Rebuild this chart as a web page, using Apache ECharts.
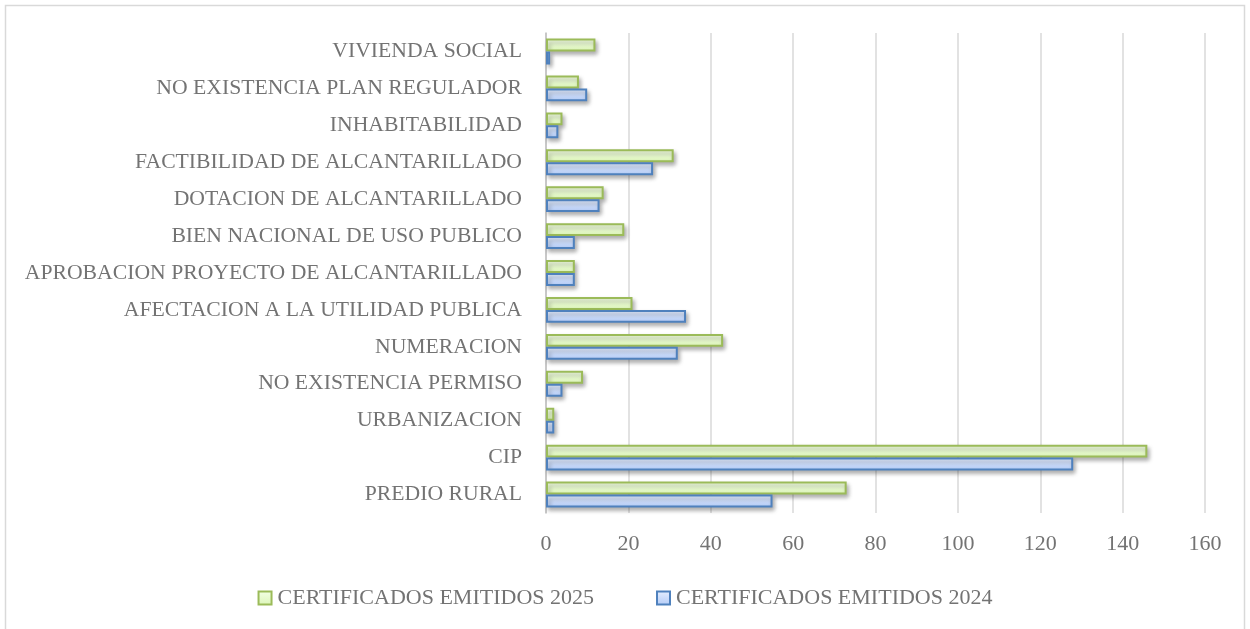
<!DOCTYPE html>
<html>
<head>
<meta charset="utf-8">
<script src="https://cdn.jsdelivr.net/npm/echarts@6/dist/echarts.min.js"></script>
<style>
    body { margin: 0; background: #fff; }
    #main { width: 1250px; height: 629px; }
</style>
</head>
<body>
<div id="main"></div>
<script>
    // categorias (de abajo hacia arriba)
    let categorias = [
        'PREDIO RURAL',
        'CIP',
        'URBANIZACION',
        'NO EXISTENCIA PERMISO',
        'NUMERACION',
        'AFECTACION A LA UTILIDAD PUBLICA',
        'APROBACION PROYECTO DE ALCANTARILLADO',
        'BIEN NACIONAL DE USO PUBLICO',
        'DOTACION DE ALCANTARILLADO',
        'FACTIBILIDAD DE ALCANTARILLADO',
        'INHABITABILIDAD',
        'NO EXISTENCIA PLAN REGULADOR',
        'VIVIENDA SOCIAL'
    ]
    let emitidos2024 = [55, 128, 2, 4, 32, 34, 7, 7, 13, 26, 3, 10, 1]
    let emitidos2025 = [73, 146, 2, 9, 43, 21, 7, 19, 14, 31, 4, 8, 12]
    let ejeTicks = [0, 20, 40, 60, 80, 100, 120, 140, 160]

    let FONT = '"Liberation Serif", serif'
    let GRIS = '#737373'

    // relleno degradado tipo Excel
    function degradado (arriba, abajo) {
        return new echarts.graphic.LinearGradient(0, 0, 0, 1, [
            {offset: 0, color: arriba},
            {offset: 1, color: abajo}
        ])
    }

    let sombra = {
        shadowColor: 'rgba(0,0,0,0.3)',
        shadowBlur: 4,
        shadowOffsetX: 2,
        shadowOffsetY: 3
    }

    let myChart = echarts.init(document.getElementById('main'))
    myChart.setOption({
        animation: false,
        textStyle: {fontFamily: FONT},
        graphic: [{
            type: 'rect',
            shape: {x: 5.5, y: 5.5, width: 1239, height: 640},
            style: {fill: 'none', stroke: '#d9d9d9', lineWidth: 1.5}
        }],
        grid: {left: 546, top: 33, width: 659, height: 480},
        legend: {
            data: ['CERTIFICADOS EMITIDOS 2025', 'CERTIFICADOS EMITIDOS 2024'],
            left: 'center',
            top: 582,
            itemWidth: 13,
            itemHeight: 13,
            itemGap: 62,
            icon: 'rect',
            textStyle: {fontFamily: FONT, fontSize: 22, color: GRIS, padding: [0, 0, 0, 1]}
        },
        xAxis: {
            type: 'value',
            min: ejeTicks[0],
            max: ejeTicks[ejeTicks.length - 1],
            interval: 20,
            axisLine: {show: false},
            axisTick: {show: false},
            axisLabel: {fontFamily: FONT, fontSize: 22, color: GRIS, margin: 20},
            splitLine: {lineStyle: {color: '#d9d9d9', width: 1.5}}
        },
        yAxis: {
            type: 'category',
            data: categorias,
            axisLine: {lineStyle: {color: '#bfbfbf', width: 1.5}},
            axisTick: {show: false},
            axisLabel: {fontFamily: FONT, fontSize: 21.7, color: GRIS, margin: 24}
        },
        series: [
            {
                name: 'CERTIFICADOS EMITIDOS 2025',
                type: 'bar',
                data: emitidos2025,
                barGap: '0%',
                barCategoryGap: '30%',
                itemStyle: Object.assign({
                    color: degradado('#f4ffe6', '#dcf5b8'),
                    borderColor: '#9bbb59',
                    borderWidth: 2
                }, sombra)
            },
            {
                name: 'CERTIFICADOS EMITIDOS 2024',
                type: 'bar',
                data: emitidos2024,
                barGap: '0%',
                barCategoryGap: '30%',
                itemStyle: Object.assign({
                    color: degradado('#e6efff', '#b3cbf7'),
                    borderColor: '#4f81bd',
                    borderWidth: 2
                }, sombra)
            }
        ]
    })
</script>
</body>
</html>
